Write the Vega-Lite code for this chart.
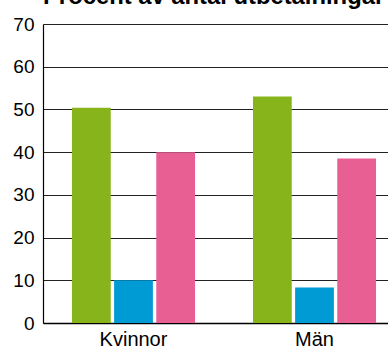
{
  "$schema": "https://vega.github.io/schema/vega-lite/v6.json",
  "autosize": {"type": "none"},
  "padding": {"left": 43, "top": 24, "right": 0, "bottom": 24},
  "width": 362,
  "height": 299,
  "background": "white",
  "title": {
    "text": "Procent av antal utbetalningar",
    "anchor": "start",
    "frame": "group",
    "font": "Liberation Sans",
    "fontSize": 23.8,
    "fontWeight": "bold",
    "color": "black",
    "baseline": "alphabetic",
    "offset": 3,
    "dy": 16
  },
  "data": {
    "values": [
      {"grupp": "Kvinnor", "serie": "Serie 1", "procent": 50.4},
      {"grupp": "Kvinnor", "serie": "Serie 2", "procent": 10.0},
      {"grupp": "Kvinnor", "serie": "Serie 3", "procent": 40.0},
      {"grupp": "Män", "serie": "Serie 1", "procent": 53.0},
      {"grupp": "Män", "serie": "Serie 2", "procent": 8.3},
      {"grupp": "Män", "serie": "Serie 3", "procent": 38.5}
    ]
  },
  "config": {
    "view": {"stroke": null},
    "axis": {"labelFont": "Liberation Sans", "labelColor": "black"}
  },
  "mark": {"type": "bar"},
  "encoding": {
    "x": {
      "field": "grupp",
      "type": "nominal",
      "scale": {"paddingInner": 0.32, "paddingOuter": 0.16},
      "axis": {
        "title": null,
        "labelAngle": 0,
        "labelFontSize": 20,
        "ticks": false,
        "labelPadding": 6,
        "domainColor": "black",
        "domainWidth": 1.5
      }
    },
    "xOffset": {
      "field": "serie",
      "type": "nominal",
      "scale": {"paddingInner": 0.08, "paddingOuter": 0}
    },
    "y": {
      "field": "procent",
      "type": "quantitative",
      "scale": {"domain": [0, 70], "nice": false},
      "axis": {
        "title": null,
        "values": [0, 10, 20, 30, 40, 50, 60, 70],
        "labelFontSize": 19,
        "ticks": false,
        "labelPadding": 9,
        "grid": true,
        "gridColor": "#222",
        "gridWidth": 1,
        "domainColor": "black",
        "domainWidth": 1.2
      }
    },
    "color": {
      "field": "serie",
      "type": "nominal",
      "scale": {"range": ["#87b41a", "#009ad4", "#e86093"]},
      "legend": null
    }
  }
}
